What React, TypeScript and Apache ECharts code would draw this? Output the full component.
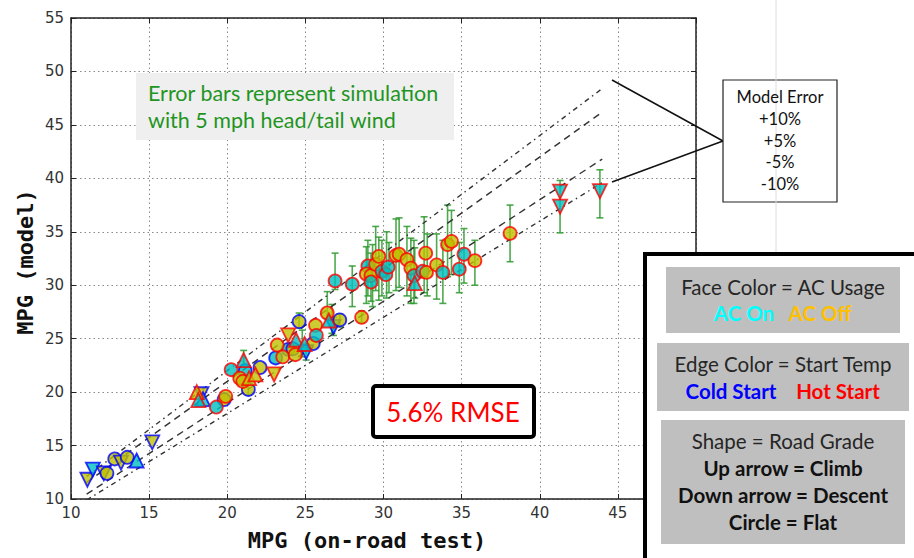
import React, { useEffect, useRef } from 'react';
import * as echarts from 'echarts';

// [x (on-road MPG), y (model MPG), face: 'on' | 'off' (AC), shape: 'flat' | 'up' | 'down']
const coldStartPoints: [number, number, string, string][] = [
  [11.05, 11.8, 'off', 'down'],
  [11.4, 12.75, 'on', 'down'],
  [12.1, 12.4, 'off', 'down'],
  [12.3, 12.4, 'off', 'flat'],
  [12.8, 13.75, 'off', 'flat'],
  [13.2, 13.4, 'off', 'down'],
  [13.6, 13.9, 'off', 'flat'],
  [14.2, 13.6, 'on', 'up'],
  [15.2, 15.3, 'off', 'down'],
  [18.35, 19.8, 'off', 'down'],
  [18.45, 19.35, 'on', 'up'],
  [19.8, 19.3, 'off', 'flat'],
  [21.15, 22.0, 'on', 'flat'],
  [21.35, 20.25, 'off', 'flat'],
  [22.1, 22.3, 'off', 'flat'],
  [23.1, 23.2, 'on', 'flat'],
  [23.9, 24.0, 'on', 'flat'],
  [24.2, 24.05, 'off', 'flat'],
  [24.6, 26.6, 'off', 'flat'],
  [25.05, 23.75, 'on', 'down'],
  [25.5, 24.55, 'off', 'flat'],
  [26.8, 26.1, 'on', 'down'],
  [27.2, 26.75, 'off', 'flat'],
];

const hotStartPoints: [number, number, string, string][] = [
  [18.05, 20.0, 'off', 'up'],
  [18.15, 19.25, 'on', 'up'],
  [19.3, 18.6, 'on', 'flat'],
  [19.9, 19.6, 'off', 'flat'],
  [20.25, 22.1, 'on', 'flat'],
  [21.05, 23.0, 'on', 'up'],
  [20.8, 21.3, 'off', 'flat'],
  [21.0, 21.0, 'off', 'flat'],
  [21.4, 21.3, 'off', 'up'],
  [21.8, 21.65, 'off', 'up'],
  [23.0, 21.65, 'off', 'down'],
  [23.2, 24.4, 'off', 'flat'],
  [23.55, 23.3, 'off', 'flat'],
  [23.9, 25.3, 'off', 'down'],
  [24.35, 23.5, 'off', 'flat'],
  [24.4, 24.9, 'on', 'up'],
  [24.95, 24.5, 'on', 'up'],
  [25.65, 26.25, 'off', 'flat'],
  [25.7, 25.3, 'on', 'flat'],
  [26.4, 27.4, 'off', 'flat'],
  [26.5, 26.7, 'on', 'up'],
  [26.9, 30.4, 'on', 'flat'],
  [28.0, 30.1, 'on', 'flat'],
  [28.6, 27.0, 'off', 'flat'],
  [29.0, 31.8, 'on', 'flat'],
  [28.9, 31.05, 'off', 'flat'],
  [29.2, 30.9, 'off', 'flat'],
  [29.2, 30.3, 'on', 'flat'],
  [29.5, 31.95, 'off', 'flat'],
  [29.7, 32.7, 'off', 'flat'],
  [29.9, 31.3, 'on', 'flat'],
  [30.15, 31.0, 'on', 'flat'],
  [30.3, 31.7, 'on', 'flat'],
  [30.8, 32.8, 'off', 'flat'],
  [31.0, 32.9, 'off', 'flat'],
  [31.5, 32.4, 'off', 'flat'],
  [31.75, 31.6, 'off', 'flat'],
  [31.95, 30.9, 'on', 'flat'],
  [32.0, 30.2, 'on', 'up'],
  [32.5, 31.3, 'on', 'flat'],
  [32.7, 33.0, 'off', 'flat'],
  [32.75, 31.2, 'off', 'flat'],
  [33.4, 31.9, 'off', 'flat'],
  [33.8, 31.2, 'on', 'flat'],
  [34.1, 33.8, 'off', 'flat'],
  [34.35, 34.1, 'off', 'flat'],
  [34.85, 31.5, 'on', 'flat'],
  [35.15, 32.9, 'on', 'flat'],
  [35.85, 32.3, 'off', 'flat'],
  [38.1, 34.85, 'off', 'flat'],
  [41.3, 38.75, 'on', 'down'],
  [41.3, 37.35, 'on', 'down'],
  [43.85, 38.8, 'on', 'down'],
];

// [x, low, high] — simulation with 5 mph head/tail wind
const errorBars: [number, number, number][] = [
  [21.05, 22.4, 23.9],
  [21.35, 19.7, 20.7],
  [24.6, 26.0, 27.4],
  [24.8, 23.3, 25.8],
  [25.05, 23.0, 24.5],
  [26.4, 26.9, 29.4],
  [26.7, 25.5, 28.2],
  [26.8, 25.3, 27.0],
  [27.2, 26.1, 27.3],
  [26.9, 29.6, 33.0],
  [28.0, 28.0, 31.8],
  [28.6, 26.5, 27.6],
  [28.9, 28.3, 33.6],
  [29.0, 29.0, 34.2],
  [29.2, 28.5, 33.0],
  [29.3, 28.0, 33.8],
  [29.5, 29.5, 35.5],
  [29.7, 28.6, 34.5],
  [29.9, 29.0, 34.2],
  [30.2, 28.8, 35.0],
  [30.35, 29.3, 34.0],
  [30.8, 29.5, 36.2],
  [31.0, 29.8, 36.3],
  [31.5, 29.0, 35.5],
  [31.75, 28.3, 34.4],
  [31.95, 28.3, 34.2],
  [32.0, 28.8, 33.5],
  [32.6, 29.3, 36.4],
  [32.8, 29.0, 34.8],
  [33.4, 28.7, 34.8],
  [33.8, 28.3, 34.2],
  [34.1, 30.8, 37.5],
  [34.35, 31.0, 37.0],
  [34.85, 29.3, 34.0],
  [35.15, 30.2, 35.3],
  [35.85, 30.0, 34.2],
  [38.1, 32.2, 37.5],
  [41.3, 34.9, 39.8],
  [43.85, 36.3, 40.8],
];

const plus10Line = [[11, 12.1], [44, 48.4]];
const plus5Line = [[11, 11.55], [44, 46.2]];
const minus5Line = [[11, 10.45], [44, 41.8]];
const minus10Line = [[11, 9.9], [44, 39.6]];

const modelErrorLabels = ['Model Error', '+10%', '+5%', '-5%', '-10%'];
const noteLines = ['Error bars represent simulation', 'with 5 mph head/tail wind'];
const rmseLabel = '5.6% RMSE';
const hiddenXTick = 50; // covered by the legend box in the original

const FACE: Record<string, string> = { on: '#00bfbf', off: '#bfbf00' };
const EDGE = { cold: '#0000ff', hot: '#ff0000' };

function toItems(points: [number, number, string, string][], edge: string) {
  return points.map(([x, y, face, shape]) => ({
    value: [x, y],
    symbol: shape === 'flat' ? 'circle' : 'triangle',
    symbolRotate: shape === 'down' ? 180 : 0,
    symbolSize: shape === 'flat' ? 13 : 14,
    itemStyle: { color: FACE[face], borderColor: edge, borderWidth: 1.8 },
  }));
}

const CAL = 'Lato, "Open Sans", sans-serif';

export default function App() {
  const ref = useRef<HTMLDivElement>(null);
  useEffect(() => {
    if (!ref.current) return;
    const chart = echarts.init(ref.current, undefined, { renderer: 'svg' });
    const refLine = (data: number[][], type: any) => ({
      type: 'line',
      data,
      symbol: 'none',
      z: 3,
      lineStyle: { color: '#333', width: 1.4, type },
      silent: true,
    });
    const axisCommon = {
      min: 10,
      interval: 5,
      axisLine: { show: true, lineStyle: { color: '#222', width: 1.5 } },
      axisTick: { show: true, inside: true, length: 5, lineStyle: { color: '#222' } },
      splitLine: { show: true, lineStyle: { color: '#8a8a8a', type: [1.5, 3], width: 1 } },
    };
    const labelStyle = { color: '#333', fontSize: 15, fontFamily: 'DejaVu Sans' };
    chart.setOption({
      animation: false,
      grid: { left: 71, top: 18, width: 625, height: 481, containLabel: false },
      xAxis: [
        {
          ...axisCommon, type: 'value', max: 50, position: 'bottom',
          axisLabel: { ...labelStyle, margin: 6, formatter: (v: number) => (v === hiddenXTick ? '' : String(v)) },
        },
        { ...axisCommon, type: 'value', max: 50, position: 'top', axisLabel: { show: false }, splitLine: { show: false } },
      ],
      yAxis: [
        { ...axisCommon, type: 'value', max: 55, position: 'left', axisLabel: { ...labelStyle, margin: 7 } },
        { ...axisCommon, type: 'value', max: 55, position: 'right', axisLabel: { show: false }, splitLine: { show: false } },
      ],
      series: [
        {
          type: 'custom',
          z: 2,
          data: errorBars,
          encode: { x: 0, y: [1, 2] },
          renderItem: (params: any, api: any) => {
            const x = api.value(0);
            const lo = api.coord([x, api.value(1)]);
            const hi = api.coord([x, api.value(2)]);
            const st = { stroke: '#2f9a2f', lineWidth: 1.6, opacity: 0.85 };
            return {
              type: 'group',
              children: [
                { type: 'line', shape: { x1: lo[0], y1: lo[1], x2: hi[0], y2: hi[1] }, style: st },
                { type: 'line', shape: { x1: lo[0] - 3.5, y1: lo[1], x2: lo[0] + 3.5, y2: lo[1] }, style: st },
                { type: 'line', shape: { x1: hi[0] - 3.5, y1: hi[1], x2: hi[0] + 3.5, y2: hi[1] }, style: st },
              ],
            };
          },
        },
        refLine(plus10Line, [5, 4, 1.5, 4]),
        refLine(plus5Line, [7, 5]),
        refLine(minus5Line, [7, 5]),
        refLine(minus10Line, [5, 4, 1.5, 4]),
        { type: 'scatter', z: 4, data: toItems(coldStartPoints, EDGE.cold) },
        { type: 'scatter', z: 5, data: toItems(hotStartPoints, EDGE.hot) },
      ],
      graphic: [
        // note box
        { type: 'rect', shape: { x: 136, y: 73, width: 318, height: 67 }, style: { fill: '#efefef' }, z: 50 },
        ...noteLines.map((t, i) => ({
          type: 'text', x: 148, y: 93 + i * 27, z: 51,
          style: { text: t, fill: '#1f951f', font: `21.5px ${CAL}`, textAlign: 'left', textVerticalAlign: 'middle' },
        })),
        // axis names
        {
          type: 'text', x: 367, y: 540, z: 51,
          style: { text: 'MPG (on-road test)', fill: '#111', font: 'bold 22px "DejaVu Sans Mono"', textAlign: 'center', textVerticalAlign: 'middle' },
        },
        {
          type: 'text', x: 25, y: 262, rotation: Math.PI / 2, z: 51,
          style: { text: 'MPG (model)', fill: '#111', font: 'bold 22px "DejaVu Sans Mono"', textAlign: 'center', textVerticalAlign: 'middle' },
        },
        // RMSE box
        { type: 'rect', shape: { x: 373, y: 386, width: 161, height: 51, r: 3 }, style: { fill: '#fff', stroke: '#000', lineWidth: 4 }, z: 50 },
        {
          type: 'text', x: 453, y: 412, z: 51,
          style: { text: rmseLabel, fill: '#ff0000', font: `26px ${CAL}`, textAlign: 'center', textVerticalAlign: 'middle' },
        },
        // model error annotation
        { type: 'line', shape: { x1: 612, y1: 80, x2: 723, y2: 141 }, style: { stroke: '#111', lineWidth: 1.5 }, z: 50 },
        { type: 'line', shape: { x1: 612, y1: 182, x2: 723, y2: 141 }, style: { stroke: '#111', lineWidth: 1.5 }, z: 50 },
        { type: 'rect', shape: { x: 723, y: 80, width: 114, height: 122 }, style: { fill: '#fff', stroke: '#222', lineWidth: 1.2 }, z: 50 },
        { type: 'line', shape: { x1: 776, y1: 0, x2: 776, y2: 252 }, style: { stroke: '#dcdcdc', lineWidth: 1 }, z: 51 },
        ...modelErrorLabels.map((t, i) => ({
          type: 'text', x: 780, y: 97 + i * 21.8, z: 52,
          style: { text: t, fill: '#111', font: `16.5px ${CAL}`, textAlign: 'center', textVerticalAlign: 'middle' },
        })),
        // legend
        { type: 'rect', shape: { x: 645, y: 254, width: 300, height: 330 }, style: { fill: '#fff', stroke: '#000', lineWidth: 4 }, z: 60 },
        { type: 'rect', shape: { x: 666, y: 267, width: 234, height: 66 }, style: { fill: '#bfbfbf' }, z: 61 },
        { type: 'rect', shape: { x: 657, y: 343, width: 252, height: 68 }, style: { fill: '#bfbfbf' }, z: 61 },
        { type: 'rect', shape: { x: 661, y: 420, width: 244, height: 124 }, style: { fill: '#bfbfbf' }, z: 61 },
        ...[
          ['Face Color = AC Usage', 783, 287, '#262626', ''],
          ['AC On', 744, 313, '#00ffff', 'bold '],
          ['AC Off', 820, 313, '#ffc000', 'bold '],
          ['Edge Color = Start Temp', 783, 364, '#262626', ''],
          ['Cold Start', 731, 391, '#0000ff', 'bold '],
          ['Hot Start', 838, 391, '#ff0000', 'bold '],
          ['Shape = Road Grade', 783, 441, '#262626', ''],
          ['Up arrow = Climb', 783, 468, '#111', 'bold '],
          ['Down arrow = Descent', 783, 495, '#111', 'bold '],
          ['Circle = Flat', 783, 522, '#111', 'bold '],
        ].map(([t, x, y, c, w]) => ({
          type: 'text', x, y, z: 62,
          style: { text: t, fill: c, font: `${w}20.5px ${CAL}`, textAlign: 'center', textVerticalAlign: 'middle' },
        })),
      ],
    });
    return () => chart.dispose();
  }, []);
  return <div ref={ref} style={{ position: 'fixed', left: 0, top: 0, width: 914, height: 558, background: '#fff' }} />;
}
